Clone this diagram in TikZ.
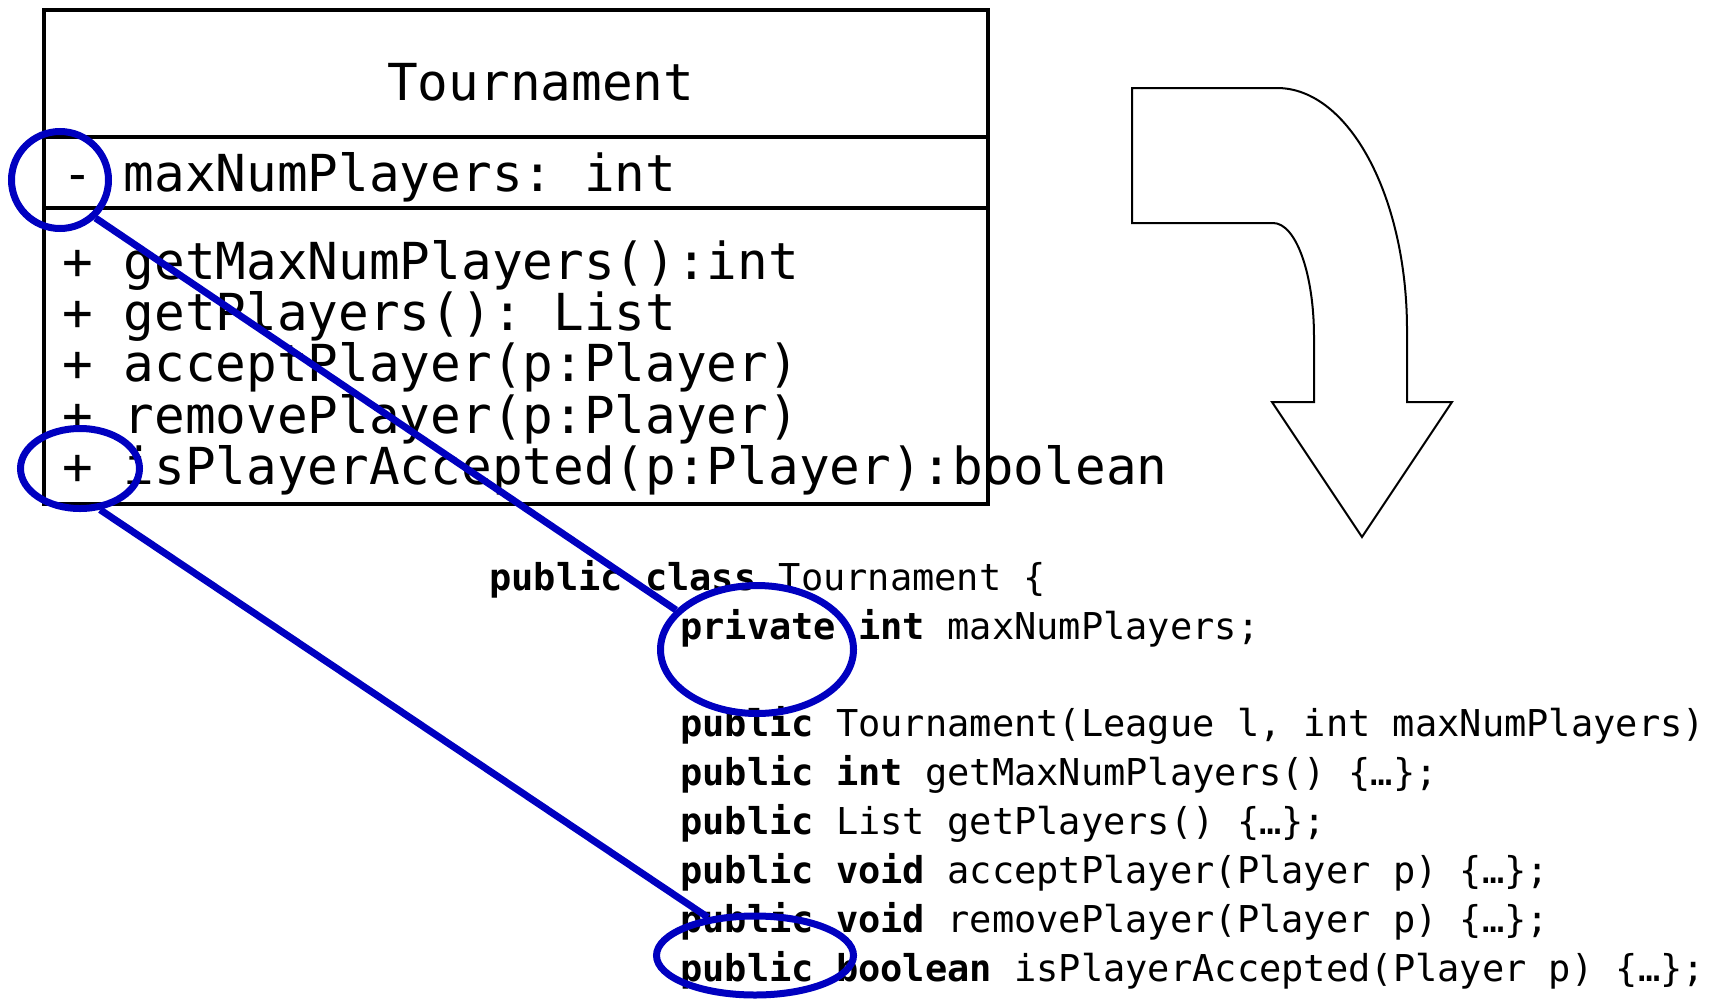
\documentclass[tikz,border=0pt]{standalone}
\usepackage{fontspec}
\setmonofont{DejaVu Sans Mono}
\usetikzlibrary{shapes.geometric}
\definecolor{hlblue}{RGB}{0,0,192}
\begin{document}
\begin{tikzpicture}[x=1pt,y=-1pt,
  umltext/.style={anchor=base west, inner sep=0pt, font=\fontsize{51}{60}\selectfont\ttfamily},
  codetext/.style={anchor=base west, inner sep=0pt, font=\fontsize{37}{44}\selectfont\ttfamily},
  umlbox/.style={draw=black, line width=3.5pt},
  umlsep/.style={draw=black, line width=4.5pt},
  hl/.style={draw=hlblue, line width=7pt, ellipse, inner sep=0pt},
  hlline/.style={draw=hlblue, line width=7pt},
  bigarrow/.style={draw=black, line width=2pt, line join=miter, fill=white}
]
\useasboundingbox (0,0) rectangle (1715,999);

% UML class box
\draw[umlbox] (44,10) rectangle (988,504);
\draw[umlsep] (44,137) -- (988,137);
\draw[umlsep] (44,208) -- (988,208);

\node[umltext] (title) at (387,100) {Tournament};
\node[umltext] (attr) at (62,191) {- maxNumPlayers: int};
\node[umltext] (m1) at (62,279) {+ getMaxNumPlayers():int};
\node[umltext] (m2) at (62,330.5) {+ getPlayers(): List};
\node[umltext] (m3) at (62,381.7) {+ acceptPlayer(p:Player)};
\node[umltext] (m4) at (62,433) {+ removePlayer(p:Player)};
\node[umltext] (m5) at (62,484) {+ isPlayerAccepted(p:Player):boolean};

% bent arrow
\draw[bigarrow] (1132,88) -- (1277,88)
  .. controls (1349,88) and (1407,197) .. (1407,330)
  -- (1407,402) -- (1452,402) -- (1362,537) -- (1272,402) -- (1314,402)
  -- (1314,337) .. controls (1314,274) and (1296,223) .. (1273,223)
  -- (1132,223) -- cycle;

% Java code
\node[codetext] (c0) at (489,590) {\textbf{public class} Tournament \{};
\node[codetext] (c1) at (680,639) {\textbf{private int} maxNumPlayers;};
\node[codetext] (c2) at (680,736) {\textbf{public} Tournament(League l, int maxNumPlayers)};
\node[codetext] (c3) at (680,785) {\textbf{public int} getMaxNumPlayers() \{…\};};
\node[codetext] (c4) at (680,834) {\textbf{public} List getPlayers() \{…\};};
\node[codetext] (c5) at (680,883) {\textbf{public void} acceptPlayer(Player p) \{…\};};
\node[codetext] (c6) at (680,932) {\textbf{public void} removePlayer(Player p) \{…\};};
\node[codetext] (c7) at (680,981) {\textbf{public boolean} isPlayerAccepted(Player p) \{…\};};

% highlight ellipses
\node[hl, minimum width=97pt, minimum height=97pt] (e1) at (60,180) {};
\node[hl, minimum width=119pt, minimum height=80pt] (e2) at (80,468.5) {};
\node[hl, minimum width=193pt, minimum height=128pt] (e3) at (757,649.5) {};
\node[hl, minimum width=197pt, minimum height=79pt] (e4) at (755,955.5) {};

\draw[hlline] (e1.-47) -- (e3.154);
\draw[hlline] (e2.-64) -- (e4.141);
\end{tikzpicture}
\end{document}
